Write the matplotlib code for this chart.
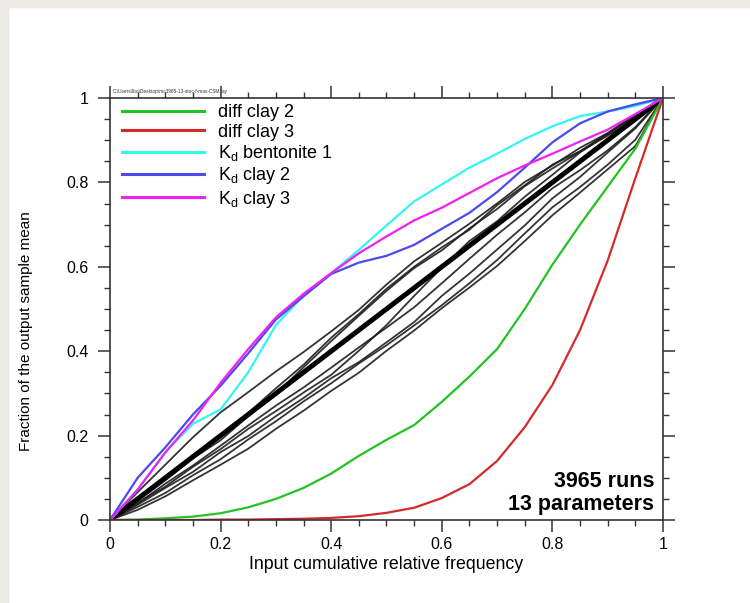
import matplotlib as mpl
mpl.use('Agg')
import matplotlib.pyplot as plt
from matplotlib.patches import Rectangle
from matplotlib.ticker import MultipleLocator
from matplotlib import font_manager

names = {f.name for f in font_manager.fontManager.ttflist}
HAVE_NARROW = 'Liberation Sans Narrow' in names

ARIAL = ['Liberation Sans', 'DejaVu Sans']
plt.rcParams['font.family'] = ARIAL
plt.rcParams['mathtext.fontset'] = 'custom'
plt.rcParams['mathtext.rm'] = 'Liberation Sans'

# common input quantiles
xs = [0, 0.05, 0.1, 0.15, 0.2, 0.25, 0.3, 0.35, 0.4, 0.45, 0.5,
      0.55, 0.6, 0.65, 0.7, 0.75, 0.8, 0.85, 0.9, 0.95, 1.0]

diff_clay2 = [0, 0.001, 0.004, 0.008, 0.016, 0.03, 0.05, 0.076, 0.11, 0.152, 0.19,
              0.225, 0.28, 0.34, 0.405, 0.5, 0.605, 0.7, 0.79, 0.88, 1.0]
diff_clay3 = [0, 0, 0, 0, 0.001, 0.001, 0.002, 0.003, 0.005, 0.009, 0.017,
              0.029, 0.052, 0.085, 0.14, 0.22, 0.32, 0.45, 0.615, 0.81, 1.0]
kd_bent1 = [0, 0.072, 0.16, 0.228, 0.262, 0.35, 0.462, 0.532, 0.585, 0.64, 0.698,
            0.755, 0.795, 0.835, 0.868, 0.903, 0.933, 0.957, 0.968, 0.981, 1.0]
kd_clay2 = [0, 0.1, 0.172, 0.25, 0.318, 0.395, 0.475, 0.53, 0.583, 0.61, 0.626,
            0.652, 0.69, 0.728, 0.777, 0.835, 0.895, 0.94, 0.968, 0.985, 1.0]
kd_clay3 = [0, 0.072, 0.16, 0.236, 0.325, 0.405, 0.48, 0.536, 0.585, 0.632, 0.672,
            0.71, 0.74, 0.775, 0.81, 0.84, 0.868, 0.897, 0.925, 0.962, 1.0]

# non-influential parameters (black)
others = [
    [0, 0.066, 0.131, 0.196, 0.255, 0.303, 0.352, 0.398, 0.447, 0.498, 0.558,
     0.613, 0.657, 0.702, 0.75, 0.801, 0.84, 0.882, 0.917, 0.961, 1.0],
    [0, 0.05, 0.102, 0.148, 0.203, 0.254, 0.312, 0.368, 0.432, 0.488, 0.548,
     0.6, 0.646, 0.688, 0.746, 0.793, 0.842, 0.874, 0.916, 0.956, 1.0],
    [0, 0.046, 0.094, 0.146, 0.189, 0.246, 0.299, 0.362, 0.424, 0.484, 0.543,
     0.597, 0.639, 0.691, 0.737, 0.791, 0.833, 0.873, 0.911, 0.951, 1.0],
    [0, 0.041, 0.079, 0.126, 0.168, 0.216, 0.258, 0.302, 0.344, 0.401, 0.462,
     0.531, 0.598, 0.661, 0.708, 0.766, 0.818, 0.871, 0.914, 0.957, 1.0],
    [0, 0.036, 0.076, 0.114, 0.161, 0.199, 0.246, 0.289, 0.336, 0.374, 0.421,
     0.469, 0.531, 0.584, 0.641, 0.698, 0.762, 0.813, 0.871, 0.928, 1.0],
    [0, 0.031, 0.064, 0.106, 0.144, 0.191, 0.234, 0.281, 0.324, 0.371, 0.414,
     0.461, 0.509, 0.561, 0.616, 0.679, 0.741, 0.789, 0.842, 0.901, 1.0],
    [0, 0.024, 0.056, 0.094, 0.131, 0.169, 0.216, 0.259, 0.306, 0.349, 0.401,
     0.449, 0.502, 0.551, 0.602, 0.661, 0.722, 0.776, 0.831, 0.886, 1.0],
    [0, 0.039, 0.086, 0.129, 0.176, 0.224, 0.271, 0.314, 0.361, 0.409, 0.456,
     0.504, 0.561, 0.619, 0.676, 0.729, 0.786, 0.829, 0.876, 0.931, 1.0],
]
diagonal = xs

labels = ['diff clay 2', 'diff clay 3', r'K$_\mathregular{d}$ bentonite 1',
          r'K$_\mathregular{d}$ clay 2', r'K$_\mathregular{d}$ clay 3']
colors = ['#22c322', '#d42a2a', '#33f5f5', '#4a4af0', '#f021f0']
series = [diff_clay2, diff_clay3, kd_bent1, kd_clay2, kd_clay3]

major_ticks = [0, 0.2, 0.4, 0.6, 0.8, 1.0]
tick_labels = ['0', '0.2', '0.4', '0.6', '0.8', '1']

if HAVE_NARROW:
    tick_font = dict(family=['Liberation Sans Narrow'] + ARIAL, size=14)
    xlab_font = dict(family=['Liberation Sans Narrow'] + ARIAL, size=15)
else:
    tick_font = dict(family=ARIAL, size=11.5)
    xlab_font = dict(family=ARIAL, size=12.8)

fig = plt.figure(figsize=(7.5, 6.03), dpi=100)
fig.patches.append(Rectangle((0, 1 - 7 / 603), 1, 7 / 603, transform=fig.transFigure,
                             color='#ebeae5', zorder=0))
fig.patches.append(Rectangle((0, 0), 8 / 750, 1, transform=fig.transFigure,
                             color='#ebeae5', zorder=0))

ax = fig.add_axes([110 / 750, 1 - 520 / 603, 553 / 750, 422 / 603])

for ys in others:
    ax.plot(xs, ys, color='#1e1e1e', lw=1.3, alpha=0.9)
ax.plot(xs, diagonal, color='black', lw=3.6, solid_capstyle='butt')

handles = []
for ys, c, lab in zip(series, colors, labels):
    h, = ax.plot(xs, ys, color=c, lw=1.6, label=lab)
    handles.append(h)

ax.set_xlim(0, 1)
ax.set_ylim(0, 1)
ax.set_xticks(major_ticks)
ax.set_yticks(major_ticks)
ax.set_xticklabels(tick_labels, **tick_font)
ax.set_yticklabels(tick_labels, **tick_font)
ax.xaxis.set_minor_locator(MultipleLocator(0.05))
ax.yaxis.set_minor_locator(MultipleLocator(0.05))

for s in ax.spines.values():
    s.set_color('#333333')
    s.set_linewidth(1.2)
ax.tick_params(which='both', direction='out', top=True, right=True,
               labeltop=False, labelright=False, color='#333333')
ax.tick_params(which='major', length=8.5, width=1.1)
ax.tick_params(which='minor', length=4.5, width=1.0)
ax.tick_params(axis='x', which='major', pad=3.5)
ax.tick_params(axis='y', which='major', pad=7)

ax.set_xlabel('Input cumulative relative frequency', labelpad=3, **xlab_font)
ax.set_ylabel('Fraction of the output sample mean', fontsize=11)
ax.yaxis.set_label_coords(-0.139, 0.448)

leg = ax.legend(handles=handles, loc='upper left', bbox_to_anchor=(0.011, 1.0),
                frameon=False, fontsize=13, handlelength=4.5, handletextpad=0.8,
                labelspacing=0.13, borderpad=0.0, borderaxespad=0.35)
for line in leg.get_lines():
    line.set_linewidth(2.2)

ax.text(0.984, 0.012, '3965 runs\n13 parameters', transform=ax.transAxes,
        ha='right', va='bottom', multialignment='right', fontsize=15.5,
        fontweight='bold', linespacing=1.15)

fig.text(113 / 750, 1 - 92 / 603, r'C:\Users\lbo\Desktop\mc3965-13-stoc-f-max-CSM.lay',
         fontsize=3.45, va='center', ha='left', color='#333333')

fig.savefig('out.png', dpi=100)
